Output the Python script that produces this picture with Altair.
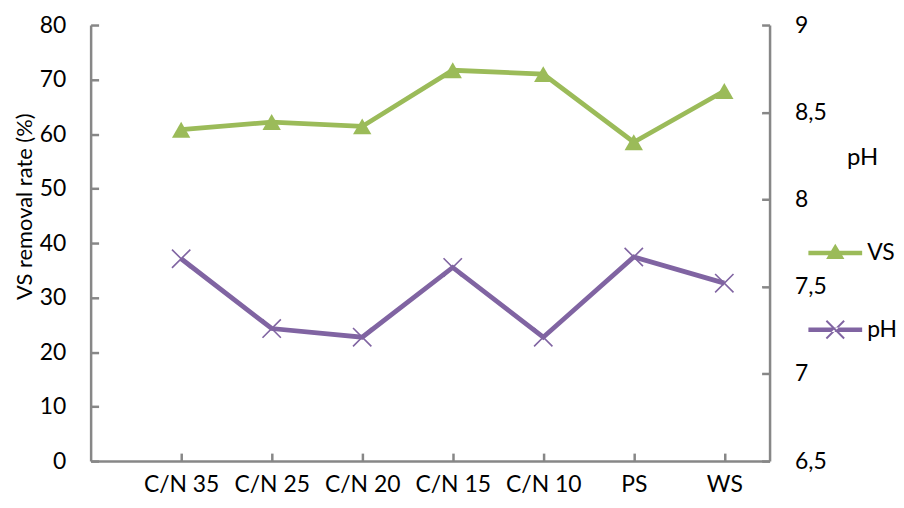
import json
import altair as alt
import pandas as pd

categories = ["C/N 35", "C/N 25", "C/N 20", "C/N 15", "C/N 10", "PS", "WS"]
vs_values = [60.8, 62.2, 61.4, 71.7, 71.0, 58.5, 67.9]
ph_values = [7.66, 7.26, 7.21, 7.61, 7.21, 7.67, 7.52]
positions = [1, 2, 3, 4, 5, 6, 7]
left_ticks = [0, 10, 20, 30, 40, 50, 60, 70, 80]
right_ticks = [6.5, 7, 7.5, 8, 8.5, 9]
series_names = ["VS", "pH"]

df = pd.DataFrame({"pos": positions, "cat": categories, "VS": vs_values, "pH": ph_values})

GREEN = "#9BBB59"
PURPLE = "#8064A2"
AXIS = "#878787"
FONT = "Lato"
W, H = 682, 438

label_expr = json.dumps(categories) + "[datum.value - 1]"
x_scale = alt.Scale(domain=[0, 7.5], nice=False, zero=False)
y_left_scale = alt.Scale(domain=[0, 80], nice=False, zero=False)
y_right_scale = alt.Scale(domain=[6.5, 9], nice=False, zero=False)

x_main = alt.X("pos:Q", scale=x_scale, axis=alt.Axis(
    orient="bottom", values=positions, labelExpr=label_expr, ticks=False, tickSize=0,
    grid=False, domainColor=AXIS, domainWidth=2.5, labelPadding=13, labelFontSize=23,
    labelFont=FONT, labelColor="black", title=None))
x_ticks = alt.X("pos:Q", scale=x_scale, axis=alt.Axis(
    orient="top", offset=-H, values=positions, labels=False, domain=False, ticks=True,
    tickSize=8, tickWidth=2.5, tickColor=AXIS, grid=False, title=None))

y_vs_main = alt.Y("VS:Q", scale=y_left_scale, axis=alt.Axis(
    orient="left", values=left_ticks, ticks=False, tickSize=0, grid=False,
    domainColor=AXIS, domainWidth=2.5, labelPadding=25, labelFontSize=23, labelFont=FONT,
    labelColor="black", title="VS removal rate (%)", titleFont=FONT, titleFontSize=22,
    titleFontWeight="normal", titleColor="black", titleAngle=270, titleX=-66, titleY=182,
    titleAlign="center", titleBaseline="middle"))
y_vs_ticks = alt.Y("VS:Q", scale=y_left_scale, axis=alt.Axis(
    orient="right", offset=-W, values=left_ticks, labels=False, domain=False, ticks=True,
    tickSize=8, tickWidth=2.5, tickColor=AXIS, grid=False, title=None))

y_ph_main = alt.Y("pH:Q", scale=y_right_scale, axis=alt.Axis(
    orient="right", values=right_ticks, ticks=False, tickSize=0, grid=False,
    domainColor=AXIS, domainWidth=2.5, labelPadding=25, labelFontSize=23, labelFont=FONT,
    labelColor="black", labelExpr="replace(toString(datum.value), '.', ',')",
    title="pH", titleFont=FONT, titleFontSize=24, titleFontWeight="normal",
    titleColor="black", titleAngle=0, titleX=93, titleY=140, titleAlign="center",
    titleBaseline="alphabetic"))
y_ph_ticks = alt.Y("pH:Q", scale=y_right_scale, axis=alt.Axis(
    orient="left", offset=-W, values=right_ticks, labels=False, domain=False, ticks=True,
    tickSize=8, tickWidth=2.5, tickColor=AXIS, grid=False, title=None))

base = alt.Chart(df)

vs_line = base.mark_line(color=GREEN, strokeWidth=4.8).encode(x=x_main, y=y_vs_main)
vs_points = base.mark_point(shape="triangle-up", filled=True, color=GREEN, size=340,
                            opacity=1).encode(x=x_ticks, y=y_vs_ticks)

# legend symbols: line segment + marker, as custom paths
vs_leg_path = "M-1,-0.083H1V0.083H-1Z M0,-0.34L0.34,0.22H-0.34Z"
ph_leg_path = ("M-1,-0.083H1V0.083H-1Z "
               "M-0.305,-0.355L0.355,0.305L0.305,0.355L-0.355,-0.305Z "
               "M0.305,-0.355L-0.355,0.305L-0.305,0.355L0.355,-0.305Z")
legend = alt.Legend(orient="none", legendX=721, legendY=202, title=None, padding=0,
                    symbolSize=2916, rowPadding=38, labelFontSize=23, labelFont=FONT,
                    labelColor="black", labelOffset=5, symbolStrokeWidth=0,
                    symbolOpacity=1)
legend_layer = base.transform_fold(["VS", "pH"], as_=["series", "val"]).mark_point(
    filled=True, opacity=0, size=10).encode(
    x=alt.X("pos:Q", scale=x_scale, axis=None),
    y=alt.Y("VS:Q", scale=y_left_scale, axis=None),
    color=alt.Color("series:N", scale=alt.Scale(domain=series_names, range=[GREEN, PURPLE]),
                    legend=legend),
    shape=alt.Shape("series:N", scale=alt.Scale(domain=series_names,
                                                range=[vs_leg_path, ph_leg_path]),
                    legend=legend),
)

left_group = alt.layer(vs_line, vs_points, legend_layer).resolve_axis(x="independent", y="independent")

ph_line = base.mark_line(color=PURPLE, strokeWidth=4.8).encode(
    x=alt.X("pos:Q", scale=x_scale, axis=None), y=y_ph_main)
ph_points = base.mark_point(shape="M-1,-1L1,1M-1,1L1,-1", filled=False, color=PURPLE,
                            size=340, strokeWidth=1.6, opacity=1).encode(
    x=alt.X("pos:Q", scale=x_scale, axis=None), y=y_ph_ticks)

right_group = alt.layer(ph_line, ph_points).resolve_axis(y="independent")

chart = alt.layer(left_group, right_group).resolve_scale(
    y="independent").resolve_axis(x="independent", y="independent").properties(
    width=W, height=H,
    autosize=alt.AutoSizeParams(type="none"),
    padding={"left": 83, "top": 16, "right": 127, "bottom": 40},
    background="white",
).configure_view(stroke=None)

chart.save("out.html", embed_options={"renderer": "svg", "actions": False})
